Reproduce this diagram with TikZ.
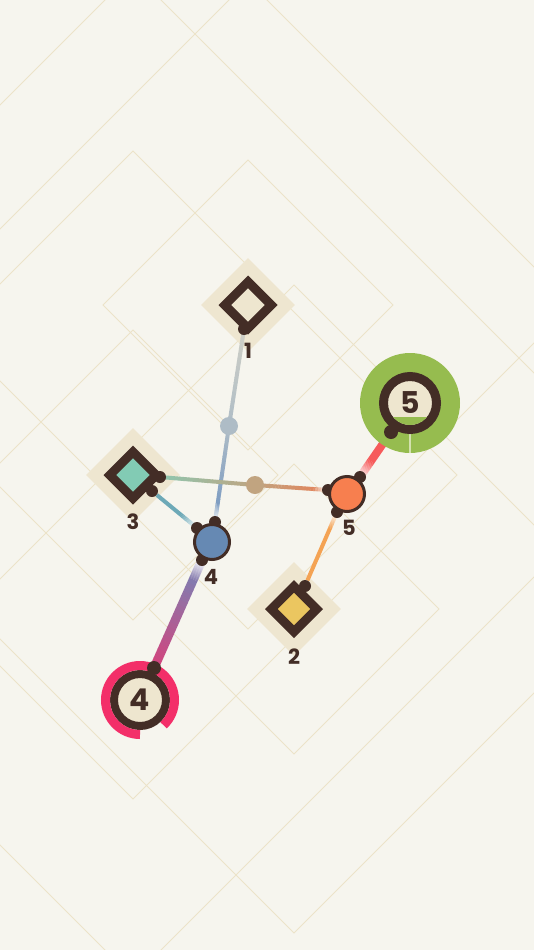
\documentclass[tikz,border=0pt]{standalone}
\usepackage{fontspec}
\setmainfont{Poppins}
\usetikzlibrary{calc,shapes.geometric}

\definecolor{paper}{HTML}{F6F5EE}
\definecolor{gridc}{HTML}{ECE3C8}
\definecolor{tilec}{HTML}{EEE6D0}
\definecolor{dark}{HTML}{432D26}
\definecolor{cream}{HTML}{EEE6CF}
\definecolor{mintc}{HTML}{82CBB4}
\definecolor{sunc}{HTML}{EBC660}
\definecolor{hubblue}{HTML}{6689B3}
\definecolor{hubor}{HTML}{F77F4F}
\definecolor{grass}{HTML}{96BC4F}
\definecolor{grasslt}{HTML}{D3E1AE}
\definecolor{rosec}{HTML}{F32F69}
\definecolor{pale}{HTML}{CECFC6}
\definecolor{mist}{HTML}{AEBCC6}
\definecolor{slate}{HTML}{7E9DC2}
\definecolor{sage}{HTML}{8FC6AF}
\definecolor{sand}{HTML}{C1A480}
\definecolor{rust}{HTML}{E0875E}
\definecolor{tealc}{HTML}{6DA9B7}
\definecolor{plum}{HTML}{857AAE}
\definecolor{berry}{HTML}{D7417A}
\definecolor{flame}{HTML}{F65B5B}
\definecolor{amberc}{HTML}{F4A354}

\pgfdeclarelayer{back}
\pgfdeclarelayer{flows}
\pgfsetlayers{back,flows,main}

\newcommand{\grad}[5]{%
	\foreach \i in {0,...,19}{%
		\pgfmathsetmacro{\ta}{\i/20}%
		\pgfmathsetmacro{\tb}{(\i+1.1)/20}%
		\pgfmathtruncatemacro{\pc}{100-5*\i}%
		\draw[line width=#5,#3!\pc!#4] ($(#1)!\ta!(#2)$) -- ($(#1)!\tb!(#2)$);
	}}

\begin{document}
\begin{tikzpicture}[x=1pt,y=-1pt,
		gridpath/.style={draw=gridc,line width=1},
		tilebox/.style={diamond,aspect=1,fill=tilec,inner sep=0,minimum size=94},
		srcbox/.style={diamond,aspect=1,draw=dark,line width=9,inner sep=0,minimum size=#1},
		knob/.style={circle,fill=dark,inner sep=0,minimum size=12},
		hubnode/.style={circle,draw=dark,line width=3,inner sep=0,minimum size=35},
		midknob/.style={circle,inner sep=0,minimum size=18},
		numlabel/.style={text=dark,inner sep=0,font=\fontsize{21}{21}\selectfont\bfseries},
		bignum/.style={text=dark,font=\fontsize{30}{30}\selectfont\bfseries}]

		\useasboundingbox (0,0) rectangle (534,950);

		\begin{pgfonlayer}{back}
			\fill[paper] (0,0) rectangle (534,950);
			\begin{scope}
				\clip (0,0) rectangle (534,950);
				\foreach \cx/\cy/\h in {248/305/145, 248/305/324, 133/475/145, 133/475/324, 133/475/503, 294/609/145, 294/609/324}
					\draw[gridpath] (\cx,\cy) ++(0,-\h) -- ++(\h,\h) -- ++(-\h,\h) -- ++(-\h,-\h) -- cycle;
			\end{scope}
			\node[tilebox] (t1) at (248,305) {};
			\node[tilebox] (t3) at (133,475) {};
			\node[tilebox] (t2) at (294,609) {};
		\end{pgfonlayer}

		\node[srcbox=50,fill=cream] (s1) at (t1) {};
		\node[knob] (k1) at (244,329) {};
		\node[numlabel] (l1) at (248,351) {1};

		\node[srcbox=50,fill=mintc] (s3) at (t3) {};
		\node[knob] (k3a) at (160,477) {};
		\node[knob] (k3b) at (152,491) {};
		\node[numlabel] (l3) at (133,522) {3};

		\node[srcbox=49,fill=sunc] (s2) at (t2) {};
		\node[knob] (k2) at (305,586) {};
		\node[numlabel] (l2) at (294,657) {2};

		\node[knob] (k4a) at (215,522) {};
		\node[knob] (k4b) at (197,528) {};
		\node[knob] (k4c) at (202,560) {};
		\node[hubnode,fill=hubblue] (h4) at (212,542) {};
		\node[numlabel] (l4) at (211,577) {4};

		\node[knob] (k5a) at (360,477) {};
		\node[knob] (k5b) at (328,490) {};
		\node[knob] (k5c) at (337,512) {};
		\node[hubnode,fill=hubor] (h5) at (347,494) {};
		\node[numlabel] (l5) at (349,528) {5};

		\node[midknob,fill=mist] (m1) at (229,426) {};
		\node[midknob,fill=sand] (m2) at (255,485) {};

		\node[circle,draw=dark,line width=8,fill=cream,inner sep=0,minimum size=52,bignum] (p4) at (140,700) {4};
		\draw[rosec,line width=9] ([shift={(90:34.5)}]p4.center) arc (90:407:34.5);
		\node[knob,minimum size=14] (kp) at (154,668) {};

		\node[circle,fill=grass,inner sep=0,minimum size=100] (g5) at (410,403) {};
		\draw[grasslt,line width=1.5] ($(g5)+(0,31)$) -- ($(g5)+(0,50)$);
		\node[circle,draw=dark,line width=9,fill=cream,inner sep=0,minimum size=53] (r5) at (g5) {};
		\begin{scope}
			\clip (r5.center) circle (22);
			\fill[grass] ($(r5)+(-25,14)$) rectangle ($(r5)+(25,25)$);
		\end{scope}
		\node[bignum] (n5) at (410,403) {5};
		\node[knob,minimum size=14] (kg) at (391,432) {};

		\begin{pgfonlayer}{flows}
			\coordinate (f1) at ($(m1)!0.8!(k4a)$);
			\grad{k1}{m1}{pale}{mist}{4}
			\grad{m1}{f1}{mist}{slate}{4}
			\grad{f1}{k4a}{slate}{white}{4}
			\coordinate (f2) at ($(m2)!0.8!(k5b)$);
			\grad{k3a}{m2}{sage}{sand}{4}
			\grad{m2}{f2}{sand}{rust}{4}
			\grad{f2}{k5b}{rust}{white}{4}
			\coordinate (f3) at ($(k3b)!0.65!(k4b)$);
			\draw[tealc,line width=4] (k3b) -- (f3);
			\grad{f3}{k4b}{tealc}{white}{4}
			\coordinate (f4) at ($(k4c)!0.18!(kp)$);
			\grad{k4c}{f4}{white}{plum}{9}
			\grad{f4}{kp}{plum}{berry}{9}
			\coordinate (f5) at ($(kg)!0.65!(k5a)$);
			\draw[flame,line width=8] (kg) -- (f5);
			\grad{f5}{k5a}{flame}{white}{8}
			\coordinate (f6) at ($(k5c)!0.22!(k2)$);
			\grad{k5c}{f6}{white}{amberc}{4}
			\draw[amberc,line width=4] (f6) -- (k2);
		\end{pgfonlayer}

\end{tikzpicture}
\end{document}
